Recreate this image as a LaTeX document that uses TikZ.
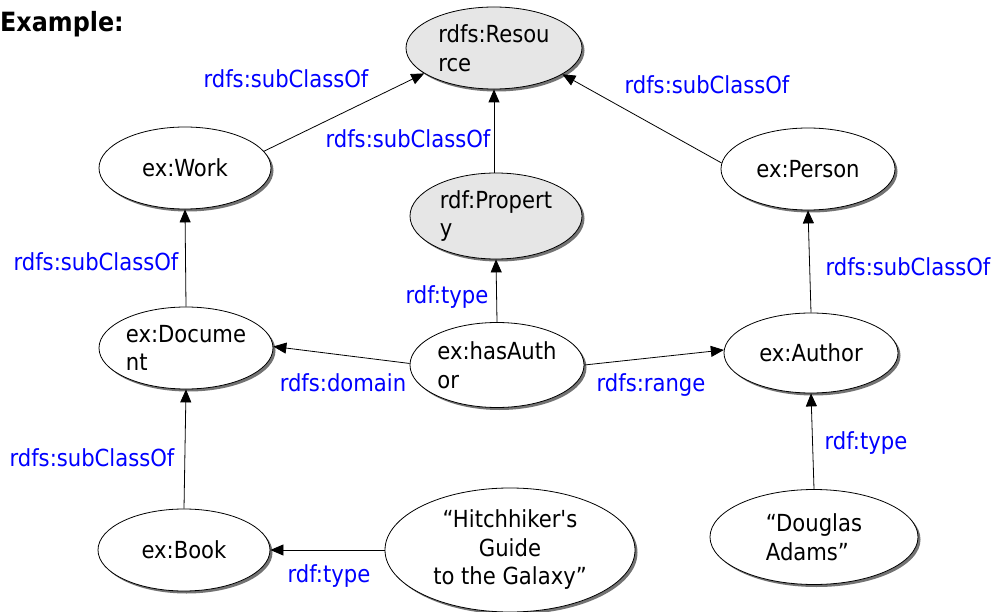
\documentclass[tikz,border=0pt]{standalone}
\usepackage{fontspec}
\setmainfont{DejaVu Sans Condensed}
\newfontfamily\plainfont{DejaVu Sans Condensed}
\usetikzlibrary{shapes.geometric,shadows,arrows.meta}
\definecolor{lblue}{RGB}{0,0,255}
\definecolor{cls}{RGB}{230,230,230}
\begin{document}
\begin{tikzpicture}[x=1pt,y=-1pt,
  every node/.style={font=\fontsize{23.5}{28.5}\selectfont},
  res/.style={ellipse, draw=black, line width=0.8pt, fill=white, inner sep=0pt,
    align=left,
    drop shadow={shadow xshift=2.5pt, shadow yshift=-2.5pt, fill=black!55, opacity=1}},
  core/.style={res, fill=cls},
  lbl/.style={text=lblue, inner sep=0pt},
  rel/.style={line width=0.8pt, -{Triangle[length=13pt,width=11pt]}}
]
\fill[white] (0,0) rectangle (998,612);
\useasboundingbox (0,0) rectangle (998,612);

\node[anchor=base west, inner sep=0pt, font=\fontsize{26.5}{30}\bfseries] (title) at (0,32) {Example:};

% classes and resources
\node[core, minimum width=176pt, minimum height=82pt] (res) at (494,48) {rdfs:Resou\\rce};
\node[core, minimum width=172pt, minimum height=86pt] (prop) at (496,216) {rdf:Propert\\y};
\node[res, minimum width=172pt, minimum height=82pt] (work) at (185,168) {ex:Work};
\node[res, minimum width=174pt, minimum height=82pt] (pers) at (808,169) {ex:Person};
\node[res, minimum width=174pt, minimum height=82pt] (doc) at (186,348) {ex:Docume\\nt};
\node[res, minimum width=174pt, minimum height=85pt] (auth) at (497,365) {ex:hasAuth\\or};
\node[res, minimum width=174pt, minimum height=80pt] (author) at (811,353) {ex:Author};
\node[res, minimum width=172pt, minimum height=82pt] (book) at (184,550) {ex:Book};
\node[res, align=center, minimum width=250pt, minimum height=124pt] (hhg) at (510,550) {“Hitchhiker{\plainfont'}s\\Guide\\to the Galaxy”};
\node[res, minimum width=208pt, minimum height=95pt] (da) at (814,537) {“Douglas\\Adams”};

% relations
\draw[rel] (work.12) -- (res.200);
\draw[rel] (prop.north -| res.south) -- (res.south);
\draw[rel] (pers.176) -- (res.339);
\draw[rel] (doc.north) -- (work.south);
\draw[rel] (auth.north) -- (prop.south);
\draw[rel] (author.north) -- (pers.south);
\draw[rel] (auth.179) -- (doc.1);
\draw[rel] (auth.0) -- (author.178);
\draw[rel] (book.north) -- (doc.south);
\draw[rel] (hhg.west) -- (book.east);
\draw[rel] (da.north) -- (author.south);

% relation labels
\node[lbl] (l1) at (286,79) {rdfs:subClassOf};
\node[lbl] (l2) at (408,139) {rdfs:subClassOf};
\node[lbl] (l3) at (96,262) {rdfs:subClassOf};
\node[lbl] (l4) at (447,297) {rdf:type};
\node[lbl] (l5) at (707,85) {rdfs:subClassOf};
\node[lbl] (l6) at (908,267) {rdfs:subClassOf};
\node[lbl] (l7) at (343,383) {rdfs:domain};
\node[lbl] (l8) at (651,385) {rdfs:range};
\node[lbl] (l9) at (92,458) {rdfs:subClassOf};
\node[lbl] (l10) at (329,576) {rdf:type};
\node[lbl] (l11) at (866,443) {rdf:type};
\end{tikzpicture}
\end{document}
